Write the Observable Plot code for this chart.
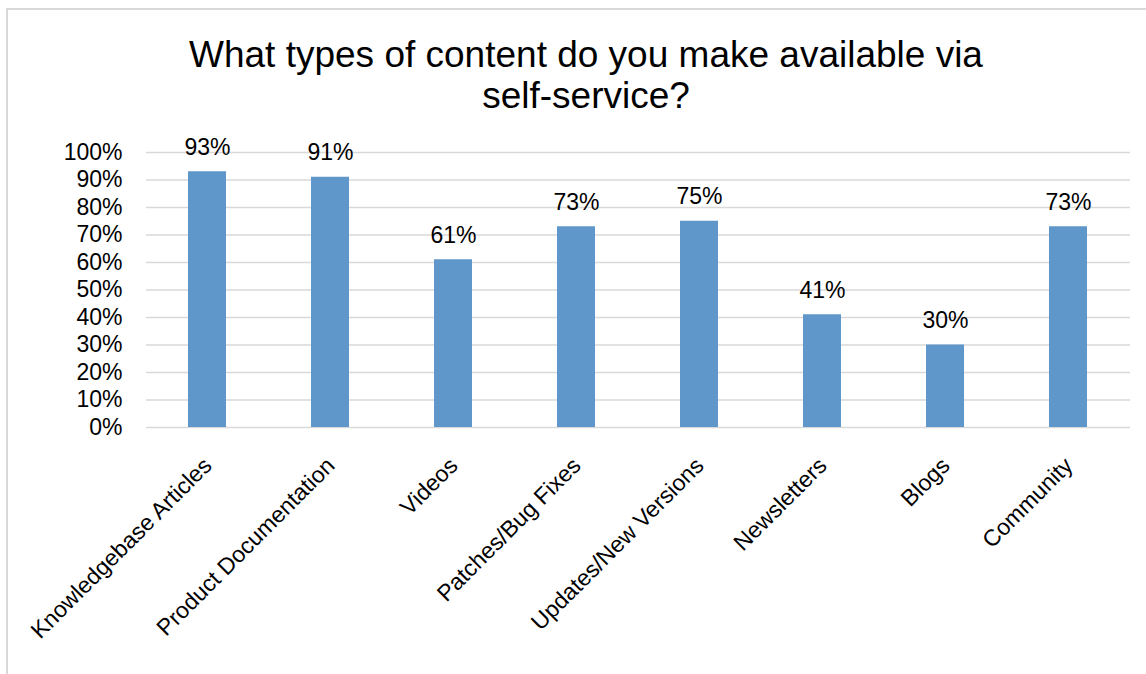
<!DOCTYPE html>
<html>
<head>
<meta charset="utf-8">
<script src="https://cdn.jsdelivr.net/npm/d3@7"></script>
<script src="https://cdn.jsdelivr.net/npm/@observablehq/plot@0.6"></script>
<style>
  html, body { margin: 0; padding: 0; background: #fff; }
  #wrap { position: relative; width: 1146px; height: 674px; overflow: hidden; font-family: "Liberation Sans", Arial, sans-serif; }
  #border { position: absolute; left: 6px; top: 8px; width: 1200px; height: 700px; border-left: 2px solid #d9d9d9; border-top: 2px solid #d9d9d9; }
  #title { position: absolute; left: 0; width: 1172px; top: 34px; text-align: center; font-size: 37px; line-height: 41px; color: #000; }
  #chart { position: absolute; left: 0; top: 120px; }
</style>
</head>
<body>
<div id="wrap">
  <div id="border"></div>
  <div id="title">What types of content do you make available via<br>self-service?</div>
  <div id="chart"></div>
</div>
<script>
const categories = ["Knowledgebase Articles", "Product Documentation", "Videos", "Patches/Bug Fixes", "Updates/New Versions", "Newsletters", "Blogs", "Community"];
const values = [93, 91, 61, 73, 75, 41, 30, 73];
const yTicks = [0, 10, 20, 30, 40, 50, 60, 70, 80, 90, 100];

const data = categories.map((c, i) => ({category: c, value: values[i]}));

const plot = Plot.plot({
  width: 1146,
  height: 554,
  marginTop: 32,
  marginBottom: 247,
  marginLeft: 146,
  marginRight: 16,
  style: {fontFamily: '"Liberation Sans", Arial, sans-serif', fontSize: "23px", color: "#000", background: "transparent"},
  x: {domain: categories, paddingInner: 0.69, paddingOuter: 0.345, axis: null},
  y: {domain: [0, 100], label: null},
  marks: [
    Plot.ruleY(yTicks, {stroke: "#d9d9d9", strokeWidth: 1.6}),
    Plot.barY(data, {x: "category", y: "value", fill: "#6097cb"}),
    Plot.axisY(yTicks, {tickSize: 0, tickPadding: 24, tickFormat: d => d + "%", fontSize: 23, fill: "#000", label: null}),
    Plot.text(data, {x: "category", y: "value", text: d => d.value + "%", lineAnchor: "bottom", dy: -17, fontSize: 23, fill: "#000"}),
    Plot.text(categories, {x: d => d, frameAnchor: "bottom", rotate: -45, textAnchor: "end", lineAnchor: "top", dx: -6, dy: 28, fontSize: 23, fill: "#000"})
  ]
});
document.getElementById("chart").appendChild(plot);
</script>
</body>
</html>
